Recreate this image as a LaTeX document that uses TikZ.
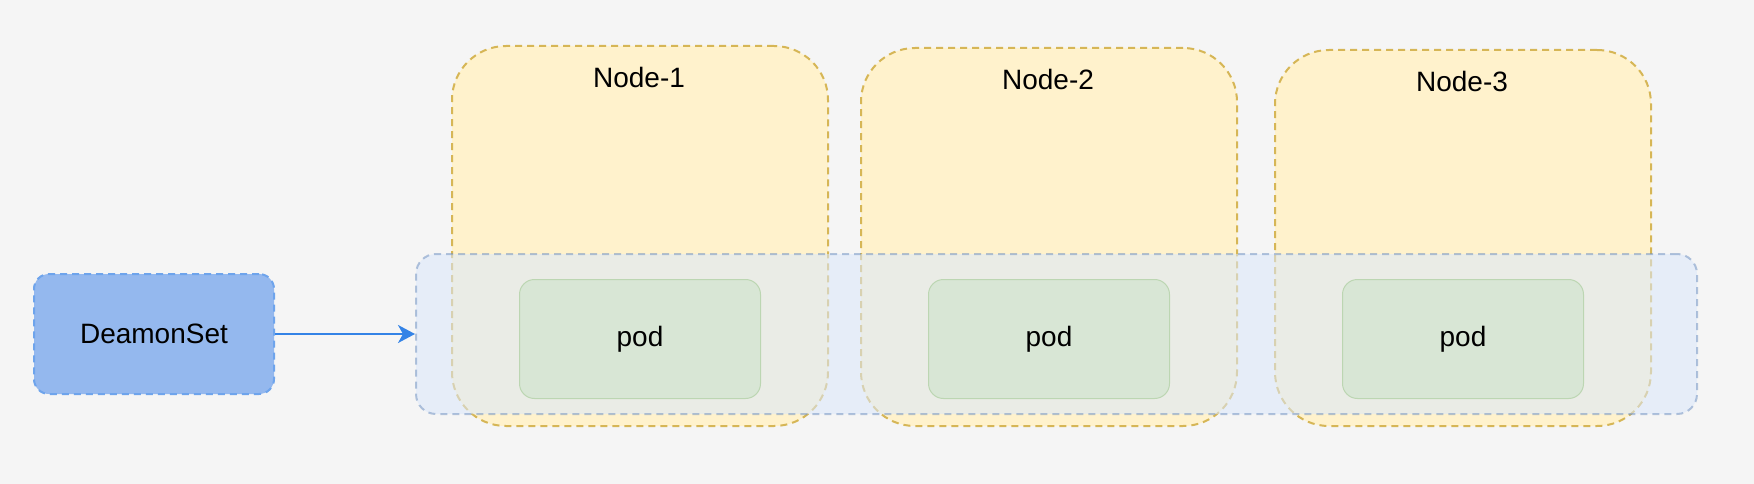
\documentclass[tikz,border=0pt]{standalone}
\usepackage{fontspec}
\setmainfont{Liberation Sans}
\usetikzlibrary{arrows.meta}
\definecolor{bgc}{HTML}{F5F5F5}
\definecolor{yelF}{HTML}{FFF2CC}
\definecolor{yelS}{HTML}{D6B656}
\definecolor{bluF}{HTML}{DAE8FC}
\definecolor{bluS}{HTML}{6C8EBF}
\definecolor{podF}{HTML}{D8E6D5}
\definecolor{podS}{HTML}{BCD6B2}
\definecolor{dsF}{HTML}{94B8EE}
\definecolor{dsS}{HTML}{6EA4EC}
\definecolor{arrC}{HTML}{3483E6}
\newcommand\bigtxt{\fontsize{28pt}{34pt}\selectfont}
\begin{document}
\begin{tikzpicture}[x=1pt,y=-1pt,
  hostbox/.style={draw=yelS, fill=yelF, line width=2pt, dash pattern=on 7pt off 5pt,
    rounded corners=54pt, inner sep=0pt, anchor=north west, minimum width=376pt, minimum height=#1},
  setbox/.style={draw=bluS, draw opacity=0.5, fill=bluF, fill opacity=0.55, line width=2pt,
    dash pattern=on 7pt off 5pt, rounded corners=20pt, inner sep=0pt, anchor=north west,
    minimum width=1281pt, minimum height=160pt},
  podbox/.style={draw=podS, fill=podF, line width=1pt, rounded corners=15pt, inner sep=0pt,
    anchor=north west, minimum width=241pt, minimum height=119pt, font=\bigtxt},
  dsbox/.style={draw=dsS, fill=dsF, line width=2pt, dash pattern=on 7pt off 5pt,
    rounded corners=15pt, inner sep=0pt, anchor=north west, minimum width=240pt,
    minimum height=120pt, font=\bigtxt},
  lbl/.style={font=\bigtxt, inner sep=0pt, anchor=center},
  arrowline/.style={draw=arrC, line width=2pt, -{Stealth[length=17pt,width=18pt,inset=5pt]}}
]
\fill[bgc] (0,0) rectangle (1754,484);
\useasboundingbox (0,0) rectangle (1754,484);

\node[hostbox=380pt] (h1) at (451,45) {};
\node[hostbox=378pt] (h2) at (860,47) {};
\node[hostbox=376pt] (h3) at (1274,49) {};
\node[lbl] (l1) at (639,77) {Node-1};
\node[lbl] (l2) at (1048,79) {Node-2};
\node[lbl] (l3) at (1462,81) {Node-3};

\node[setbox] (ctr) at (415,253) {};

\node[podbox] (p1) at (519,279) {pod};
\node[podbox] (p2) at (928,279) {pod};
\node[podbox] (p3) at (1342,279) {pod};

\node[dsbox] (ds) at (33,273) {DeamonSet};

\draw[arrowline] (ds.east) -- (ctr.west);
\end{tikzpicture}
\end{document}
